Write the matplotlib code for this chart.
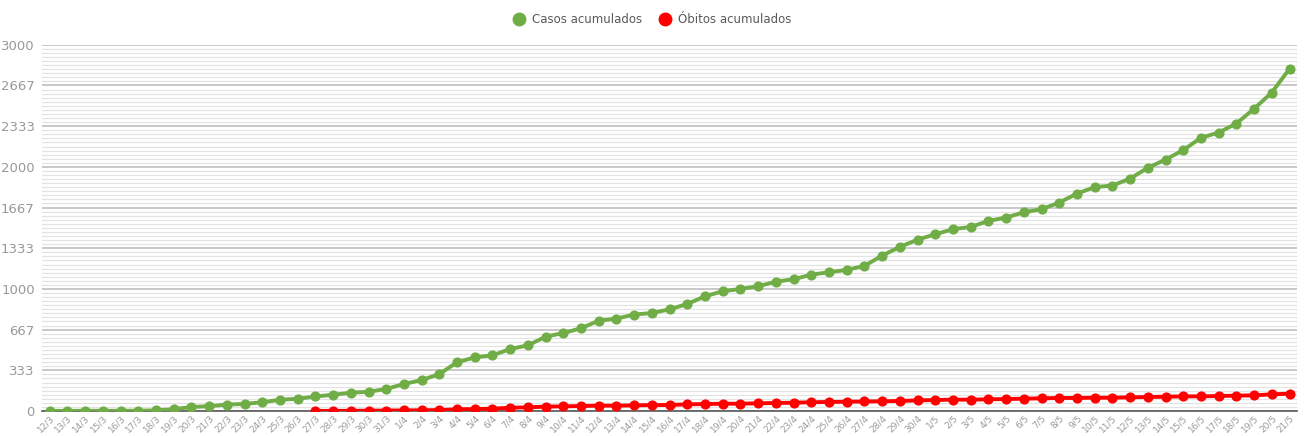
import numpy as np
import matplotlib.pyplot as plt
from matplotlib.ticker import FixedLocator, MultipleLocator

# dates 12/3 .. 21/5
datas = [f"{d}/3" for d in range(12, 32)] + [f"{d}/4" for d in range(1, 31)] + [f"{d}/5" for d in range(1, 22)]

casos = [1, 1, 2, 2, 2, 3, 5, 15, 33, 39, 53, 58, 72, 92, 100, 119, 133, 150, 158, 180,
         222, 253, 303, 399, 440, 456, 508, 538, 609, 639, 678, 740, 757, 790, 803, 833, 877, 940, 981, 1000,
         1022, 1060, 1079, 1117, 1137, 1156, 1189, 1273, 1344, 1404,
         1448, 1489, 1508, 1557, 1585, 1628, 1653, 1708, 1781, 1834, 1847, 1904, 1992, 2060, 2137, 2238,
         2281, 2355, 2476, 2609, 2803]

# deaths start on 27/3
obitos_inicio = 15
obitos = [1, 1, 2, 3, 4, 5, 6,
          8, 14, 16, 19, 27, 30, 36, 38, 41, 44, 44, 46, 49, 49, 55, 57, 60, 60, 63, 66, 68, 72, 74, 76, 78,
          80, 82, 87, 90, 93, 93, 96, 98, 101, 104, 107, 107, 109, 109, 112, 115, 117, 120, 120, 123, 126, 128,
          137, 142]

y_ticks = [0, 1000 / 3, 2000 / 3, 1000, 4000 / 3, 5000 / 3, 2000, 7000 / 3, 8000 / 3, 3000]
y_labels = ["0", "333", "667", "1000", "1333", "1667", "2000", "2333", "2667", "3000"]

verde = "#70ad47"
vermelho = "#ff0000"

fig = plt.figure(figsize=(13.04, 4.36), dpi=100)
ax = fig.add_axes([0.032, 0.0573, 0.963, 0.84])

x = np.arange(len(datas))
ax.plot(x, casos, color=verde, lw=2.8, marker="o", ms=6.3, label="Casos acumulados", zorder=3)
ax.plot(x[obitos_inicio:], obitos, color=vermelho, lw=2.8, marker="o", ms=6.3, label="Óbitos acumulados", zorder=3)

ax.set_ylim(0, 3000)
ax.set_xlim(-0.45, len(datas) - 1 + 0.45)
ax.yaxis.set_major_locator(FixedLocator(y_ticks))
ax.set_yticklabels(y_labels)
ax.yaxis.set_minor_locator(MultipleLocator(100 / 3))
ax.grid(axis="y", which="major", color="#bfbfbf", lw=1.2)
ax.grid(axis="y", which="minor", color="#e3e3e3", lw=0.9)
ax.set_axisbelow(True)

ax.set_xticks(x)
ax.set_xticklabels(datas, rotation=45, ha="right", rotation_mode="anchor")
ax.tick_params(axis="x", labelsize=6.5, colors="#999999", length=0, pad=2)
ax.tick_params(axis="y", labelsize=9.5, colors="#999999", length=0, pad=5, which="both")

for s in ["top", "right", "left"]:
    ax.spines[s].set_visible(False)
ax.spines["bottom"].set_color("#595959")
ax.spines["bottom"].set_linewidth(1.2)

leg = fig.legend(loc="upper center", bbox_to_anchor=(0.5, 0.995), ncol=2, frameon=False,
                 fontsize=8.5, handlelength=1, handletextpad=0.6, columnspacing=1.4)
for h in leg.legend_handles:
    h.set_linestyle("none")
    h.set_markersize(9)
for t in leg.get_texts():
    t.set_color("#595959")

fig.savefig("out.png", dpi=100)
